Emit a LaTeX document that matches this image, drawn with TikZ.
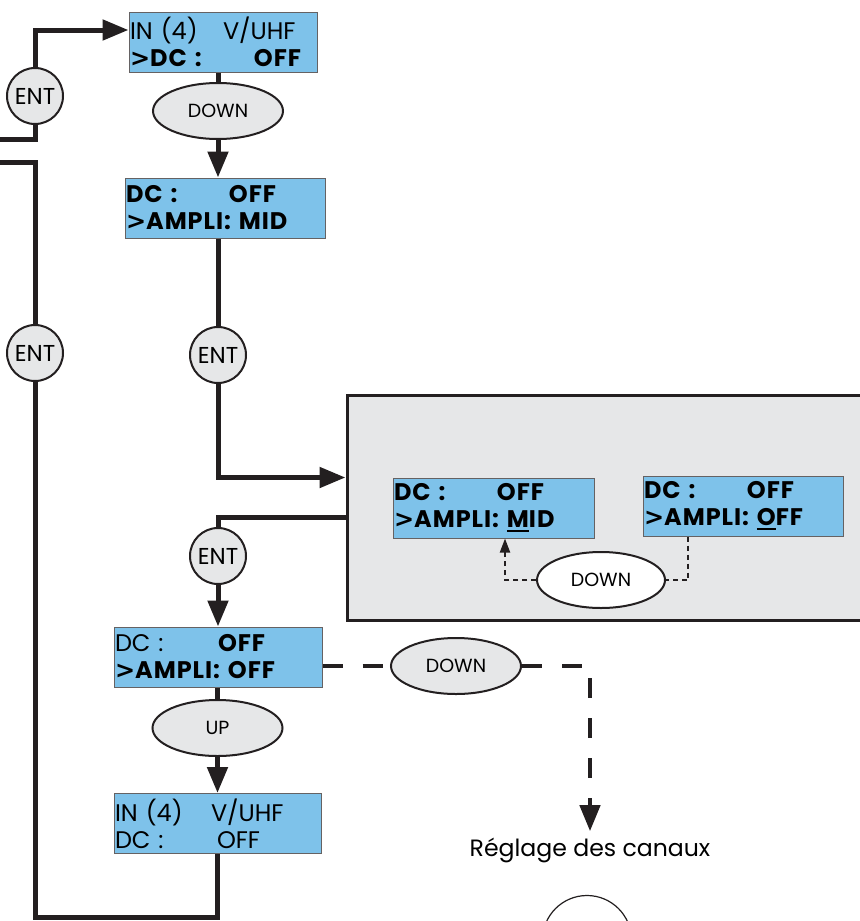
\documentclass[tikz,border=0pt]{standalone}
\usepackage{fontspec}
\setmainfont{Poppins}[BoldFeatures={LetterSpace=4}]
\newfontfamily\chevronfont{DejaVu Sans}
\usetikzlibrary{arrows.meta, shapes.geometric, calc}
\definecolor{lcdblue}{RGB}{126,194,234}
\definecolor{keygrey}{RGB}{230,231,232}
\definecolor{ink}{RGB}{35,31,32}
% one display line: first field, then second field at a fixed tab
\newcommand{\lcdRow}[3][51.5pt]{\makebox[#1][l]{#2}#3}
% selection mark and cursor under one character
\newcommand{\selMark}{{\chevronfont\bfseries\fontsize{12}{13.5}\selectfont >}}
\newcommand{\curs}[1]{\setbox0\hbox{#1}\rlap{\rule[-2.2pt]{\wd0}{1.1pt}}\box0}

\begin{document}
\begin{tikzpicture}[x=0.5pt, y=-0.5pt,
  lcd/.style={rectangle, draw=ink!70, line width=0.5pt, fill=lcdblue,
    text width=#1, minimum height=30pt, inner xsep=0.5pt, inner ysep=0pt,
    align=left, font=\fontsize{12}{13.5}\selectfont},
  lcd/.default=99pt,
  key/.style={ellipse, draw=ink, line width=1pt, fill=keygrey,
    minimum width=65pt, minimum height=28pt, inner sep=0pt,
    font=\fontsize{9.5}{11}\selectfont},
  ent/.style={circle, draw=ink, line width=1pt, fill=keygrey,
    minimum size=28pt, inner sep=0pt, font=\fontsize{11.5}{12}\selectfont},
  flow/.style={ink, line width=2.5pt},
  tip/.style={-{Triangle[length=13pt,width=10pt]}},
  jump/.style={ink, line width=2.2pt, dash pattern=on 10pt off 10pt},
  dots/.style={ink, line width=1pt, dash pattern=on 2.5pt off 2pt},
]
  \useasboundingbox (0,0) rectangle (859,921);

  % menu with the choices
  \node[rectangle, draw=ink, line width=1.5pt, fill=keygrey,
    minimum width=258pt, minimum height=112.5pt] (menu) at (605,507.5) {};

  % displays
  \node[lcd=93pt] (box1) at (223,42)
    {\lcdRow[46.5pt]{IN (4)}{V/UHF}\\ \textbf{\lcdRow[62pt]{\selMark DC :}{OFF}}};
  \node[lcd] (box2) at (225,208)
    {\textbf{\lcdRow{DC :}{OFF}}\\ \textbf{\selMark AMPLI: MID}};
  \node[lcd=103pt] (box4) at (218,657)
    {\lcdRow{DC :}{\textbf{OFF}}\\ \textbf{\selMark AMPLI: OFF}};
  \node[lcd=102.5pt] (box5) at (217.5,823.5)
    {\lcdRow[48pt]{IN (4)}{V/UHF}\\ \lcdRow[51pt]{DC :}{OFF}};
  \node[lcd=99.5pt] (boxA) at (493.5,508)
    {\textbf{\lcdRow{DC :}{OFF}}\\ \textbf{\selMark AMPLI: \curs{M}ID}};
  \node[lcd] (boxB) at (743,506)
    {\textbf{\lcdRow{DC :}{OFF}}\\ \textbf{\selMark AMPLI: \curs{O}FF}};

  % keys
  \node[key] (down1) at (218,111) {DOWN};
  \node[key] (up1) at (217.5,728) {UP};
  \node[key] (down3) at (456,666) {DOWN};
  \node[key, fill=white, minimum width=64pt] (down4) at (601,580) {DOWN};
  \node[ent] (entA) at (35,96) {ENT};
  \node[ent] (entB) at (35,353) {ENT};
  \node[ent] (entC) at (218,355) {ENT};
  \node[ent] (entD) at (218,556) {ENT};
  \node[circle, draw=ink, line width=0.6pt, fill=white, minimum size=44.5pt]
    (entE) at (587,940) {};

  \node[font=\fontsize{11.8}{13}\selectfont, inner sep=3pt] (reglage) at (590,850)
    {Réglage des canaux};

  \coordinate (loopA) at (0,139);
  \coordinate (loopB) at (0,162);
  \coordinate (loopC) at (217.5,917);

  % solid paths
  \draw[flow] (loopA) -| (entA.south);
  \draw[flow, tip] (entA.north) |- ([yshift=6pt]box1.west);
  \draw[flow] (loopB) -| (entB.north);
  \draw[flow] (entB.south) |- (loopC) -- (box5.south);
  \draw[flow] (down1 |- box1.south) -- (down1.north);
  \draw[flow, tip] (down1.south) -- (down1 |- box2.north);
  \draw[flow] (entC |- box2.south) -- (entC.north);
  \draw[flow, tip] (entC.south) |- ([yshift=15pt]menu.west);
  \draw[flow] ([yshift=-5pt]menu.west) -| (entD.north);
  \draw[flow, tip] (entD.south) -- (box4.north);
  \draw[flow] (up1 |- box4.south) -- (up1.north);
  \draw[flow, tip] (up1.south) -- (up1 |- box5.north);

  % dashed paths
  \draw[jump] (box4.east |- down3) -- (down3.west);
  \draw[jump, tip] (down3.east) -| (reglage.north);
  \draw[dots] ([xshift=-27.5pt]boxB.south) |- (down4.east);
  \draw[dots, -{Triangle[length=7pt,width=5pt]}] (down4.west) -| ([xshift=5.75pt]boxA.south);
\end{tikzpicture}
\end{document}
